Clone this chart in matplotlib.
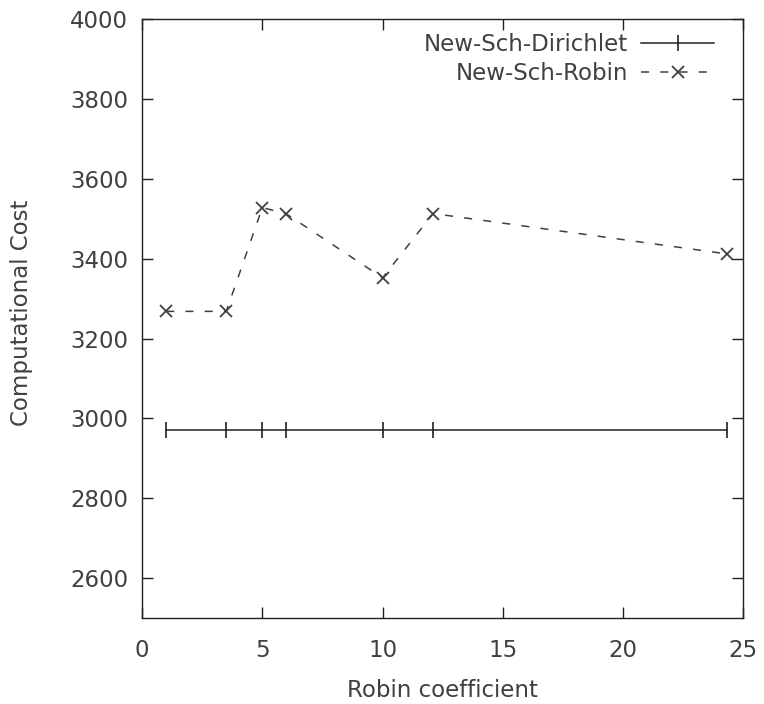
import matplotlib
matplotlib.use("Agg")
import matplotlib.pyplot as plt

# values
robin_x = [1.0, 3.5, 5.0, 6.0, 10.0, 12.1, 24.3]
robin_cost = [3268, 3268, 3528, 3512, 3352, 3513, 3412]
dirichlet_x = robin_x
dirichlet_cost = [2970] * len(robin_x)

INK = "#404040"
FS = 16.5
plt.rcParams.update({"font.family": "DejaVu Sans", "font.size": FS,
                     "text.color": INK, "axes.labelcolor": INK, "axes.edgecolor": "#202020",
                     "xtick.color": "#202020", "ytick.color": "#202020",
                     "xtick.labelcolor": INK, "ytick.labelcolor": INK})

fig = plt.figure(figsize=(7.64, 7.04), dpi=100)
ax = fig.add_axes([0.186, 0.122, 0.787, 0.851])

ax.plot(dirichlet_x, dirichlet_cost, color="#202020", lw=1.1, marker="|", ms=11,
        mew=1.2, label="New-Sch-Dirichlet")
ax.plot(robin_x, robin_cost, color=INK, lw=1.1, ls=(0, (5.3, 7.3)), marker="x", ms=8,
        mew=1.3, label="New-Sch-Robin")

ax.set_xlim(0, 25)
ax.set_ylim(2500, 4000)
ax.set_xticks(range(0, 26, 5))
ax.set_yticks(range(2600, 4001, 200))
ax.tick_params(direction="in", length=8, width=1, top=True, right=True)
ax.tick_params(axis="x", pad=15)
ax.tick_params(axis="y", pad=10)
for s in ax.spines.values():
    s.set_linewidth(1.0)

ax.set_xlabel("Robin coefficient", va="center")
ax.xaxis.set_label_coords(0.5, -0.12)
ax.set_ylabel("Computational Cost", va="center", fontsize=16.5)
ax.yaxis.set_label_coords(-0.2, 0.51)

ax.legend(loc="upper right", bbox_to_anchor=(1 - 12 / 601, 1 + 3 / 599),
          frameon=False, markerfirst=False, handlelength=3.2,
          borderaxespad=0.35, labelspacing=0.25, handletextpad=0.55, fontsize=FS)

fig.savefig("out.png", dpi=100)
